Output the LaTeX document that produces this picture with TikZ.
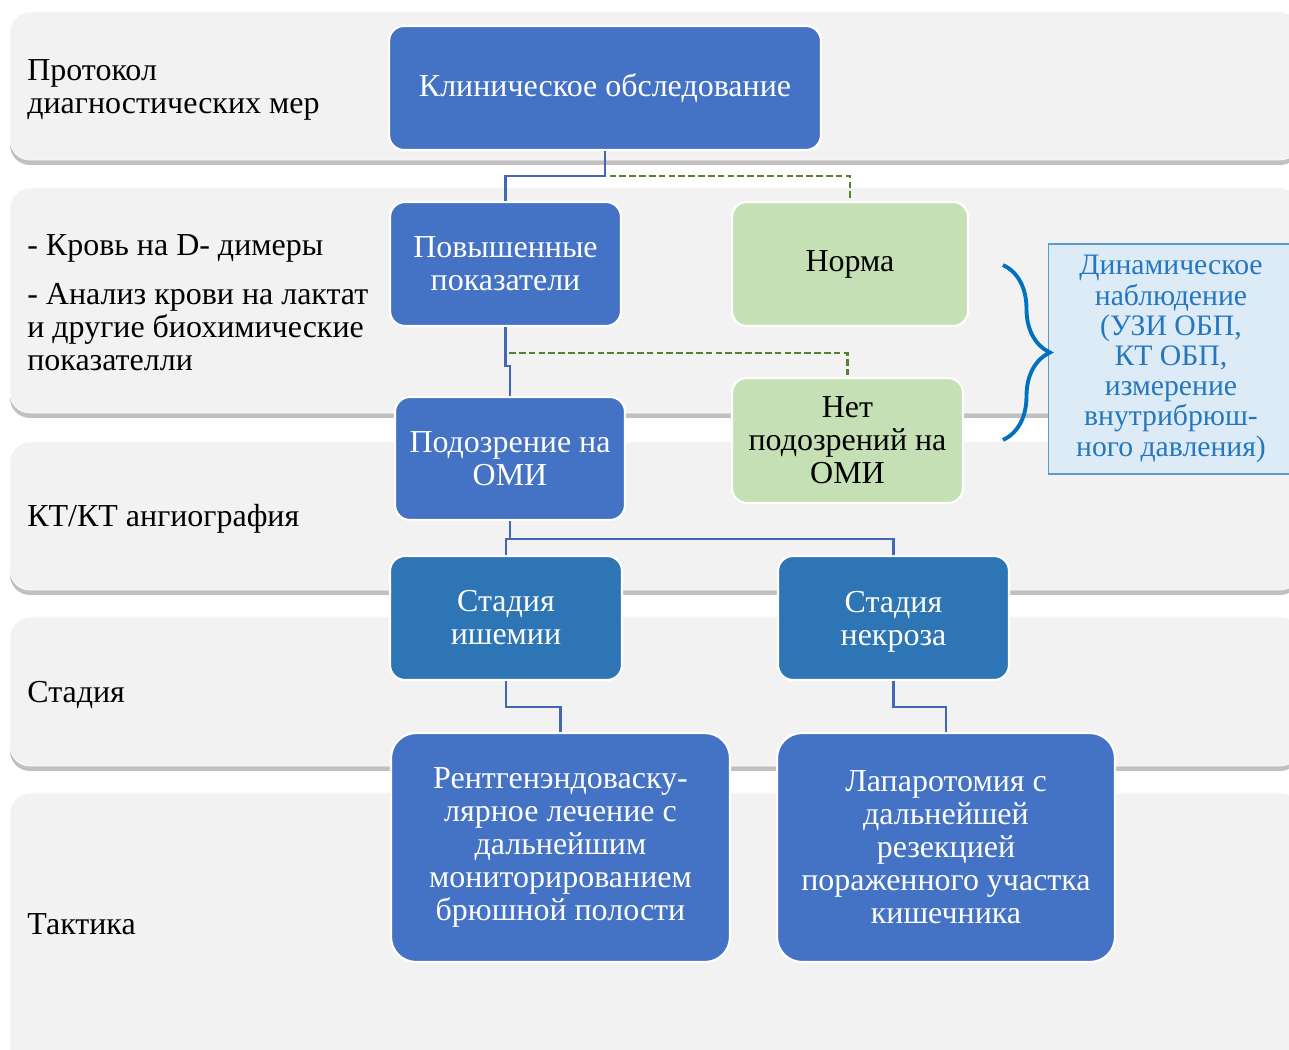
\documentclass[tikz,border=0pt]{standalone}
\usepackage{fontspec}
\setmainfont{Liberation Serif}
\usetikzlibrary{positioning,shadows,decorations.pathreplacing}

\definecolor{bandgray}{HTML}{F2F2F2}
\definecolor{boxblue}{HTML}{4472C4}
\definecolor{stageblue}{HTML}{2E75B6}
\definecolor{boxgreen}{HTML}{C5E0B4}
\definecolor{linegreen}{HTML}{548235}
\definecolor{linkblue}{HTML}{4268B4}
\definecolor{notefill}{HTML}{DDEBF7}
\definecolor{noteline}{HTML}{5B9BD5}
\definecolor{notetext}{HTML}{2577C0}
\definecolor{bracecol}{HTML}{0070C0}

\tikzset{
  band/.style={fill=bandgray, draw=white, rounded corners=0.4cm,
    drop shadow={shadow xshift=0pt, shadow yshift=-0.1cm, opacity=0.35, fill=black!70}},
  box/.style={draw=white, line width=1.2pt, rounded corners=0.3cm, fill=boxblue,
    text=white, align=center, inner sep=2pt, font=\fontsize{18.2}{18.8}\selectfont},
  greenbox/.style={box, fill=boxgreen, text=black},
  stagebox/.style={box, fill=stageblue},
  bigbox/.style={box, rounded corners=0.5cm},
  lbl/.style={anchor=west, align=left, inner sep=0pt, font=\fontsize{18.2}{18.8}\selectfont},
  link/.style={draw=linkblue, line width=1.4pt},
  altlink/.style={draw=linegreen, line width=1.6pt, dash pattern=on 3.8pt off 1.8pt}
}

\begin{document}
\begin{tikzpicture}[x=0.02cm, y=-0.02cm]
    \clip (0,0) rectangle (1289,1050);
    \fill[white] (0,0) rectangle (1289,1050);
    % bands
    \path[band] (10,12) rectangle (1300,160);
    \path[band] (10,188) rectangle (1300,413);
    \path[band] (10,442) rectangle (1300,590);
    \path[band] (10,617) rectangle (1300,766);
    \path[band] (10,793) rectangle (1300,1080);

    % left labels
    \node[lbl] (lblprotocol) at (27,90) {Протокол\\диагностических мер};
    \node[lbl] (lblblood) at (27,248) {- Кровь на D- димеры};
    \node[lbl] (lbllactate) at (27,327) {- Анализ крови на лактат\\и другие биохимические\\показателли};
    \node[lbl] (lblct) at (27,519) {КТ/КТ ангиография};
    \node[lbl] (lblstage) at (27,695) {Стадия};
    \node[lbl] (lbltactic) at (27,924) {Тактика};

    % boxes
    \node[box, minimum width=8.64cm, minimum height=2.48cm] (klin) at (605,88) {Клиническое обследование};
    \node[box, minimum width=4.62cm, minimum height=2.48cm] (povysh) at (505.5,264) {Повышенные\\показатели};
    \node[greenbox, minimum width=4.72cm, minimum height=2.48cm] (norma) at (850,264) {Норма};
    \node[box, minimum width=4.6cm, minimum height=2.46cm] (podozr) at (510,458.5) {Подозрение на\\ОМИ};
    \node[greenbox, minimum width=4.62cm, minimum height=2.5cm] (net) at (847.5,440.5) {Нет\\подозрений на\\ОМИ};
    \node[stagebox, minimum width=4.64cm, minimum height=2.48cm] (ishem) at (506,618) {Стадия\\ишемии};
    \node[stagebox, minimum width=4.62cm, minimum height=2.48cm, text depth=0pt] (nekroz) at (893.5,618) {Стадия\\некроза};
    \node[bigbox, minimum width=6.78cm, minimum height=4.58cm] (rentgen) at (560.5,847.5) {Рентгенэндоваску-\\лярное лечение с\\дальнейшим\\мониторированием\\брюшной полости};
    \node[bigbox, minimum width=6.76cm, minimum height=4.58cm] (laparo) at (946,847.5) {Лапаротомия с\\дальнейшей\\резекцией\\пораженного участка\\кишечника};
    \node[draw=noteline, line width=0.6pt, fill=notefill, text=notetext, align=center,
      minimum width=4.9cm, minimum height=4.6cm, font=\fontsize{16.9}{17.2}\selectfont]
      (dinam) at (1171,359) {Динамическое\\наблюдение\\(УЗИ ОБП,\\КТ ОБП,\\измерение\\внутрибрюш-\\ного давления)};

    % connectors
    \path[altlink] (klin.south) -- ++(0,25) -| (norma.north);
    \path[link] (klin.south) -- ++(0,25) -| (povysh.north);
    \path[altlink] (povysh.south) -- ++(0,26) -| (net.north);
    \path[link] (povysh.south) -- ++(0,39) -| (podozr.north);
    \path[link] (podozr.south) -- ++(0,18) -| (ishem.north);
    \path[link] (podozr.south) -- ++(0,18) -| (nekroz.north);
    \path[link] (ishem.south) -- ++(0,26) -| (rentgen.north);
    \path[link] (nekroz.south) -- ++(0,26) -| (laparo.north);

    % brace
    \coordinate (bracetop) at (1003,265);
    \coordinate (bracebot) at (1003,440);
    \draw[bracecol, line width=2.2pt, decorate, decoration={brace, amplitude=0.94cm}] (bracetop) -- (bracebot);
\end{tikzpicture}
\end{document}
